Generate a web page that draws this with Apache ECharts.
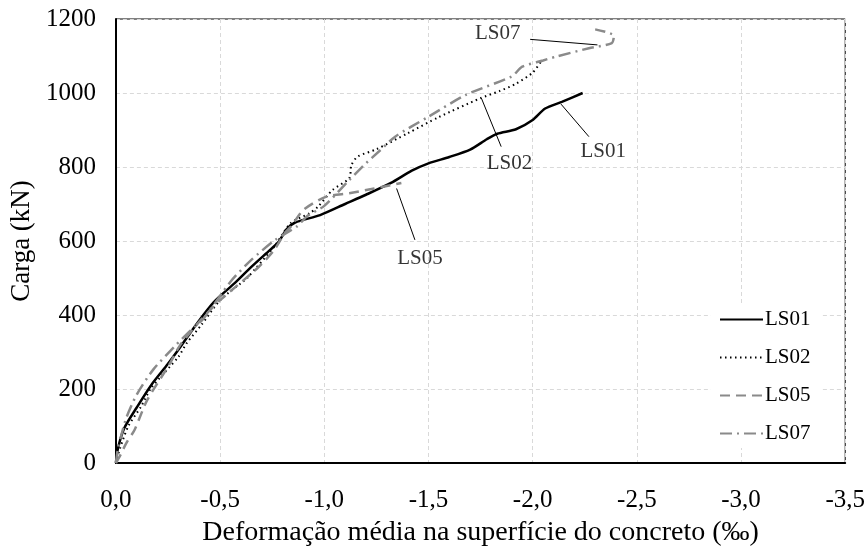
<!DOCTYPE html>
<html>
<head>
<meta charset="utf-8">
<script src="https://cdn.jsdelivr.net/npm/echarts@6/dist/echarts.min.js"></script>
<style>html,body{margin:0;padding:0;background:#fff}#c{width:868px;height:554px}</style>
</head>
<body>
<div id="c"></div>
<script>
// Deformação média (‰) , Carga (kN)
const seriesNames = ['LS01', 'LS02', 'LS05', 'LS07'];
const LS01 = [[0,0],[-0.01,40],[-0.04,94],[-0.1,150],[-0.17,211],[-0.25,268],[-0.31,314],[-0.39,378],[-0.47,435],[-0.57,486],[-0.65,530],[-0.74,576],[-0.78,597],[-0.82,632],[-0.86,650],[-0.98,670],[-1.1,700],[-1.2,725],[-1.32,757],[-1.42,790],[-1.5,810],[-1.6,827],[-1.7,847],[-1.78,875],[-1.83,890],[-1.92,902],[-2.0,927],[-2.06,958],[-2.14,976],[-2.24,1000]];
const LS02 = [[0,0],[-0.02,40],[-0.06,100],[-0.12,152],[-0.17,203],[-0.30,287],[-0.34,324],[-0.41,373],[-0.50,440],[-0.60,486],[-0.63,500],[-0.76,585],[-0.84,649],[-0.93,675],[-0.97,693],[-1.04,738],[-1.12,770],[-1.13,805],[-1.16,828],[-1.25,848],[-1.4,891],[-1.55,935],[-1.75,986],[-1.84,1005],[-1.92,1025],[-2.0,1055],[-2.04,1085]];
const LS05 = [[0,0],[-0.02,20],[-0.05,54],[-0.09,90],[-0.15,170],[-0.25,260],[-0.31,320],[-0.41,388],[-0.5,440],[-0.68,527],[-0.76,576],[-0.81,621],[-0.84,639],[-0.9,684],[-1.01,720],[-1.12,729],[-1.24,742],[-1.37,757]];
const LS07 = [[0,0],[-0.01,40],[-0.024,71],[-0.05,122],[-0.1,185],[-0.18,253],[-0.28,314],[-0.36,359],[-0.42,390],[-0.55,490],[-0.65,549],[-0.765,603],[-0.87,640],[-0.92,668],[-1.0,695],[-1.12,765],[-1.2,810],[-1.27,846],[-1.34,882],[-1.5,936],[-1.68,995],[-1.9,1045],[-1.95,1071],[-2.05,1088],[-2.11,1098],[-2.27,1121],[-2.38,1135],[-2.39,1155],[-2.30,1172]];
const xTicks = { min: -3.5, max: 0, interval: 0.5 };
const yTicks = { min: 0, max: 1200, interval: 200 };
// annotations: label, text anchor (data space), arrow tail, arrow head
const annotNames = ['LS07', 'LS02', 'LS01', 'LS05'];
const annotText  = [[-1.832,1162],[-1.889,810],[-2.339,841],[-1.459,554]];
const annotTail  = [[-1.988,1145],[-1.849,855],[-2.27,882],[-1.435,603]];
const annotHead  = [[-2.311,1130],[-1.754,986],[-2.136,970],[-1.347,742]];

const FONT = "'Liberation Serif','Times New Roman',serif";
const fmt = v => (Math.abs(v) < 1e-9 ? 0 : v).toFixed(1).replace('.', ',');
const styles = {
  LS01: { color: '#000000', width: 2.5, type: 'solid' },
  LS02: { color: '#000000', width: 2, type: [1.5, 3.5] },
  LS05: { color: '#8a8a8a', width: 2.5, type: [10, 6] },
  LS07: { color: '#8a8a8a', width: 2.5, type: [12, 5, 2, 5] }
};
const dataMap = { LS01, LS02, LS05, LS07 };

const series = seriesNames.map(n => ({
  name: n, type: 'line', data: dataMap[n], symbol: 'none', showSymbol: false, smooth: 0.25,
  lineStyle: { color: styles[n].color, width: styles[n].width, type: styles[n].type, cap: 'butt' },
  itemStyle: { color: styles[n].color },
  z: 3
}));
series.push({
  name: 'annot', type: 'scatter', symbolSize: 0, silent: true, z: 5,
  data: annotNames.map((n, i) => ({ name: n, value: annotText[i] })),
  label: { show: true, position: 'inside', formatter: p => p.name, color: '#000', fontFamily: FONT, fontSize: 21 },
  markLine: {
    silent: true, symbol: ['none', 'arrow'], symbolSize: [0, 9],
    lineStyle: { color: '#000', width: 1, type: 'solid' },
    label: { show: false },
    data: annotNames.map((n, i) => [{ coord: annotTail[i] }, { coord: annotHead[i] }])
  }
});

const chart = echarts.init(document.getElementById('c'), null, { renderer: 'canvas' });
chart.setOption({
  animation: false,
  backgroundColor: '#fff',
  textStyle: { fontFamily: FONT },
  grid: { left: 115, right: 21, top: 19, bottom: 91, show: true, borderColor: '#000', borderWidth: 1, backgroundColor: 'transparent' },
  legend: {
    data: seriesNames, orient: 'vertical', left: 711, top: 305,
    itemWidth: 43, itemHeight: 14, itemGap: 17, padding: [4, 10, 4, 8],
    backgroundColor: '#fff',
    itemStyle: { opacity: 0 },
    textStyle: { fontFamily: FONT, fontSize: 21, color: '#000', padding: [0, 0, 0, -3] },
    selectedMode: false
  },
  xAxis: {
    type: 'value', inverse: true, min: xTicks.min, max: xTicks.max, interval: xTicks.interval,
    name: 'Deformação média na superfície do concreto (‰)', nameLocation: 'middle', nameGap: 56,
    nameTextStyle: { fontFamily: FONT, fontSize: 28, color: '#000' },
    axisLine: { show: true, onZero: false, lineStyle: { color: '#000', width: 2 } },
    axisTick: { show: false },
    axisLabel: { formatter: fmt, fontFamily: FONT, fontSize: 25, color: '#000', margin: 25 },
    splitLine: { show: true, lineStyle: { color: '#d9d9d9', type: [4, 3], width: 1 } }
  },
  yAxis: {
    type: 'value', min: yTicks.min, max: yTicks.max, interval: yTicks.interval,
    name: 'Carga (kN)', nameLocation: 'middle', nameGap: 70,
    nameTextStyle: { fontFamily: FONT, fontSize: 27, color: '#000' },
    axisLine: { show: true, onZero: false, lineStyle: { color: '#000', width: 2 } },
    axisTick: { show: false },
    axisLabel: { formatter: v => String(v), fontFamily: FONT, fontSize: 25, color: '#000', margin: 20 },
    splitLine: { show: true, lineStyle: { color: '#d9d9d9', type: [4, 3], width: 1 } }
  },
  series: series
});
</script>
</body>
</html>
